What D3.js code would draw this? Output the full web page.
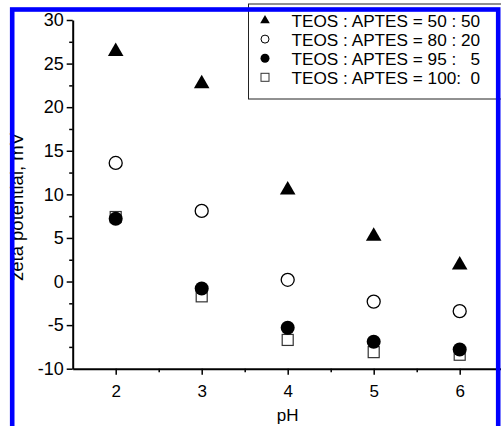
<!DOCTYPE html>
<html>
<head>
<meta charset="utf-8">
<script src="https://cdn.jsdelivr.net/npm/d3@7"></script>
<style>
  body { margin: 0; background: #fff; }
  svg { display: block; font-family: "Liberation Sans", Arial, sans-serif; }
</style>
</head>
<body>
<svg id="chart" width="501" height="426"></svg>
<script>
const phValues = [2, 3, 4, 5, 6];
const teos50 = [26.4, 22.7, 10.5, 5.2, 1.9];
const teos80 = [13.6, 8.1, 0.2, -2.3, -3.4];
const teos95 = [7.2, -0.8, -5.3, -6.9, -7.8];
const teos100 = [7.4, -1.7, -6.7, -8.1, -8.4];
const yTicks = [-10, -5, 0, 5, 10, 15, 20, 25, 30];
const xTicks = [2, 3, 4, 5, 6];
const legendLabels = [
  "TEOS : APTES = 50 : 50",
  "TEOS : APTES = 80 : 20",
  "TEOS : APTES = 95 :   5",
  "TEOS : APTES = 100:  0"
];

const svg = d3.select("#chart");
const x = d3.scaleLinear().domain([1.5, 6.5]).range([72.7, 502.7]);
const y = d3.scaleLinear().domain([-10, 30]).range([368.7, 20]);

// minor ticks
const yMinor = d3.range(-7.5, 30, 5);
const xMinor = d3.range(2.5, 6.5, 1);

svg.append("g")
  .attr("transform", "translate(" + x.range()[0] + ",0)")
  .call(d3.axisLeft(y).tickValues(yMinor).tickSize(3.5).tickFormat(""))
  .call(g => g.select(".domain").remove())
  .selectAll("line").attr("stroke-width", 1.5);

svg.append("g")
  .attr("transform", "translate(0," + y(-10) + ")")
  .call(d3.axisBottom(x).tickValues(xMinor).tickSize(3.5).tickFormat(""))
  .call(g => g.select(".domain").remove())
  .selectAll("line").attr("stroke-width", 1.5);

const yAxis = svg.append("g")
  .attr("transform", "translate(" + x.range()[0] + ",0)")
  .call(d3.axisLeft(y).tickValues(yTicks).tickSize(6).tickSizeOuter(0).tickPadding(3)
    .tickFormat(d => String(d)));
yAxis.select(".domain").attr("stroke-width", 2);
yAxis.selectAll("line").attr("stroke-width", 1.5);
yAxis.selectAll("text").attr("font-size", 18).attr("fill", "#000")
  .attr("font-family", "Liberation Sans, Arial, sans-serif");

const xAxis = svg.append("g")
  .attr("transform", "translate(0," + y(-10) + ")")
  .call(d3.axisBottom(x).tickValues(xTicks).tickSize(6).tickSizeOuter(0).tickPadding(10)
    .tickFormat(d => String(d)));
xAxis.select(".domain").attr("stroke-width", 2);
xAxis.selectAll("line").attr("stroke-width", 1.5);
xAxis.selectAll("text").attr("font-size", 17).attr("fill", "#000")
  .attr("font-family", "Liberation Sans, Arial, sans-serif");

// axis titles
svg.append("text")
  .attr("transform", "translate(23,207) rotate(-90)")
  .attr("text-anchor", "middle")
  .attr("font-size", 18.5)
  .text("zeta potential, mV");

svg.append("text")
  .attr("x", x(4))
  .attr("y", 421)
  .attr("text-anchor", "middle")
  .attr("font-size", 17)
  .text("pH");

// markers
const tri = d3.symbol().type(d3.symbolTriangle).size(105);

svg.append("g").selectAll("rect")
  .data(teos100)
  .join("rect")
  .attr("x", (d, i) => x(phValues[i]) - 5.5)
  .attr("y", d => y(d) - 5.5)
  .attr("width", 11)
  .attr("height", 11)
  .attr("fill", "#fff")
  .attr("stroke", "#333")
  .attr("stroke-width", 1.2);

svg.append("g").selectAll("circle")
  .data(teos95)
  .join("circle")
  .attr("cx", (d, i) => x(phValues[i]))
  .attr("cy", d => y(d))
  .attr("r", 7)
  .attr("fill", "#000");

svg.append("g").selectAll("circle")
  .data(teos80)
  .join("circle")
  .attr("cx", (d, i) => x(phValues[i]))
  .attr("cy", d => y(d))
  .attr("r", 6.5)
  .attr("fill", "#fff")
  .attr("stroke", "#000")
  .attr("stroke-width", 1.3);

svg.append("g").selectAll("path")
  .data(teos50)
  .join("path")
  .attr("d", tri)
  .attr("transform", (d, i) => "translate(" + x(phValues[i]) + "," + y(d) + ")")
  .attr("fill", "#000");

// legend
const legend = svg.append("g");
legend.append("rect")
  .attr("x", 248.5)
  .attr("y", 4)
  .attr("width", 260)
  .attr("height", 95)
  .attr("fill", "#fff")
  .attr("stroke", "#222")
  .attr("stroke-width", 1);

const rowY = i => 20 + i * 19.1;
const symX = 265;

legend.append("path")
  .attr("d", d3.symbol().type(d3.symbolTriangle).size(40)())
  .attr("transform", "translate(" + symX + "," + (rowY(0) + 0.5) + ")")
  .attr("fill", "#000");
legend.append("circle")
  .attr("cx", symX).attr("cy", rowY(1)).attr("r", 4)
  .attr("fill", "#fff").attr("stroke", "#000").attr("stroke-width", 1);
legend.append("circle")
  .attr("cx", symX).attr("cy", rowY(2)).attr("r", 4.5)
  .attr("fill", "#000");
legend.append("rect")
  .attr("x", symX - 4).attr("y", rowY(3) - 4).attr("width", 8).attr("height", 8)
  .attr("fill", "#fff").attr("stroke", "#333").attr("stroke-width", 1);

legend.selectAll("text.lbl")
  .data(legendLabels)
  .join("text")
  .attr("class", "lbl")
  .attr("x", 291.5)
  .attr("y", (d, i) => rowY(i) + 6.5)
  .attr("font-size", 17.2)
  .style("white-space", "pre")
  .text(d => d);

// blue frame
svg.append("rect")
  .attr("x", 12.2)
  .attr("y", 9.5)
  .attr("width", 486)
  .attr("height", 440)
  .attr("fill", "none")
  .attr("stroke", "#0000ff")
  .attr("stroke-width", 4.6);
</script>
</body>
</html>
